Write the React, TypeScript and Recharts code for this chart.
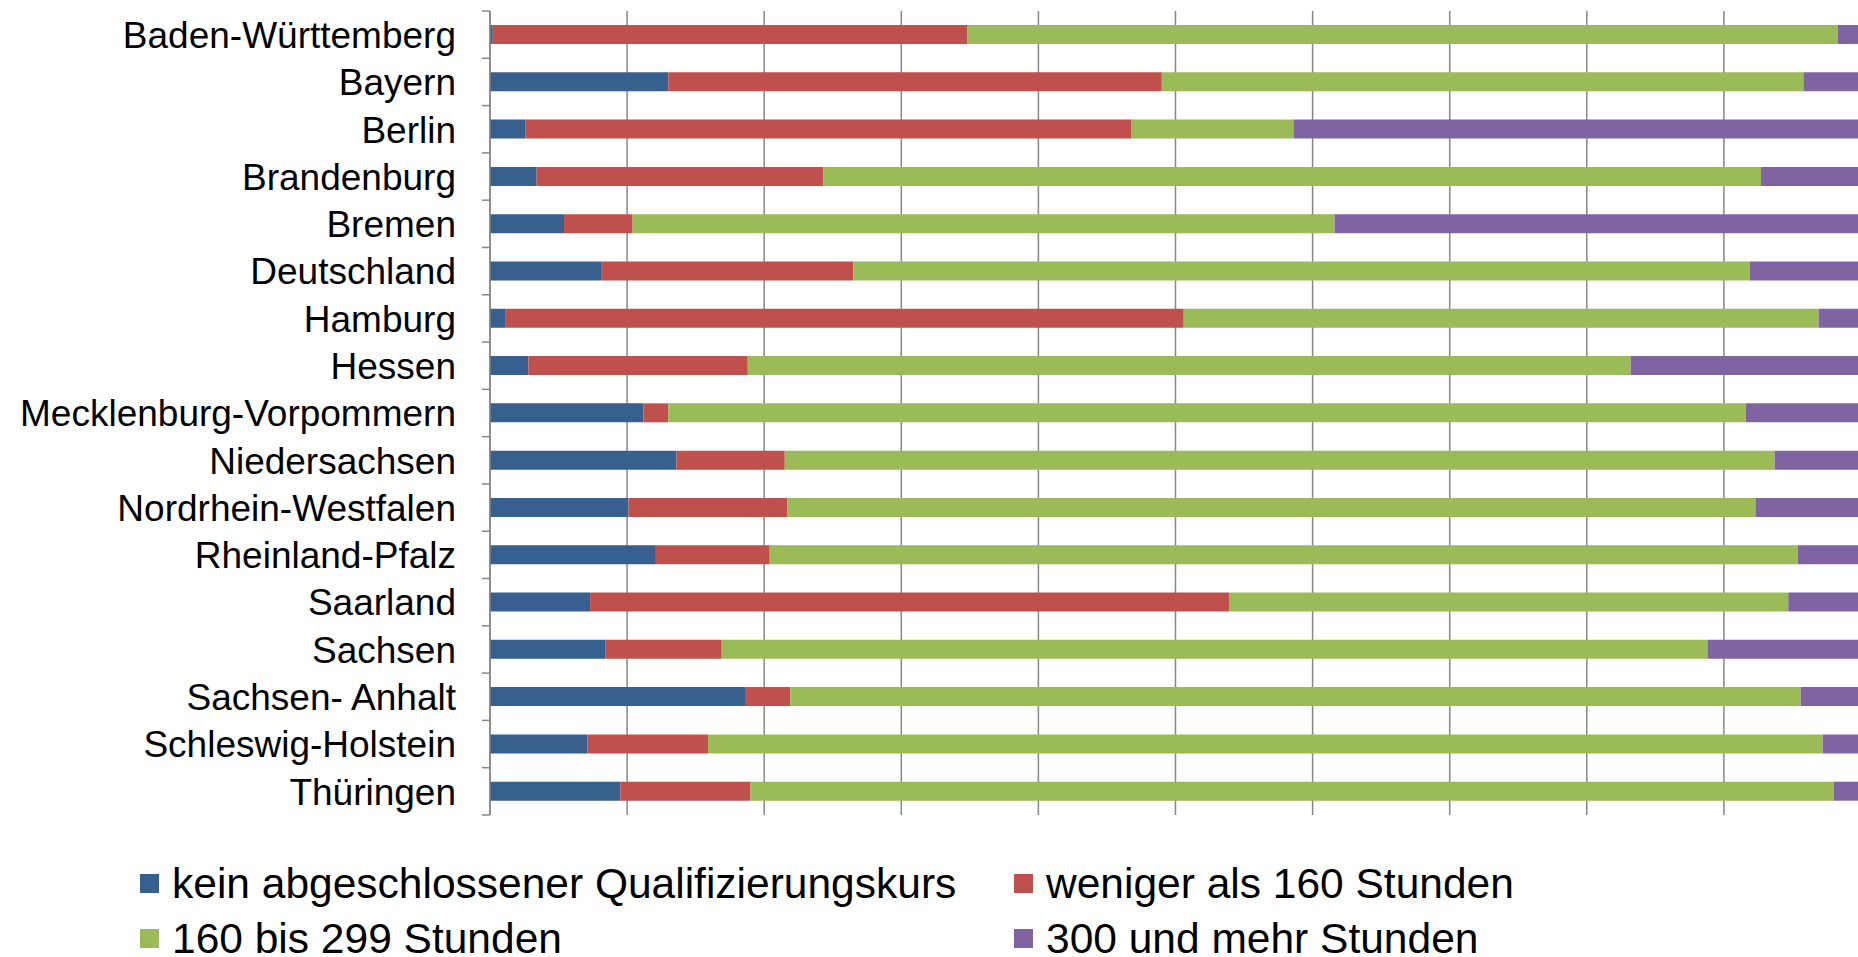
import { BarChart, Bar, XAxis, YAxis, CartesianGrid } from "recharts";

// Bundesländer, top to bottom
const states = [
  "Baden-Württemberg",
  "Bayern",
  "Berlin",
  "Brandenburg",
  "Bremen",
  "Deutschland",
  "Hamburg",
  "Hessen",
  "Mecklenburg-Vorpommern",
  "Niedersachsen",
  "Nordrhein-Westfalen",
  "Rheinland-Pfalz",
  "Saarland",
  "Sachsen",
  "Sachsen- Anhalt",
  "Schleswig-Holstein",
  "Thüringen",
];

// shares in percent
const keinKurs = [0.2, 13.0, 2.6, 3.4, 5.4, 8.1, 1.1, 2.8, 11.2, 13.6, 10.1, 12.1, 7.3, 8.4, 18.6, 7.1, 9.5];
const unter160 = [34.6, 36.0, 44.2, 20.9, 5.0, 18.4, 49.5, 16.0, 1.8, 7.9, 11.6, 8.3, 46.6, 8.5, 3.3, 8.8, 9.5];
const von160bis299 = [63.5, 46.8, 11.8, 68.4, 51.2, 65.4, 46.3, 64.4, 78.6, 72.2, 70.6, 75.0, 40.8, 71.9, 73.7, 81.3, 79.0];
const ab300 = [1.7, 4.2, 41.4, 7.3, 38.4, 8.1, 3.1, 16.8, 8.4, 6.3, 7.7, 4.6, 5.3, 11.2, 4.4, 2.8, 2.0];

const seriesKeys = ["kein", "unter160", "mittel", "ab300"];
const seriesNames = [
  "kein abgeschlossener Qualifizierungskurs",
  "weniger als 160 Stunden",
  "160 bis 299 Stunden",
  "300 und mehr Stunden",
];
const seriesColors = ["#37608F", "#C0504D", "#9BBB59", "#8064A2"];
const xTicks = [0, 10, 20, 30, 40, 50, 60, 70, 80, 90, 100];

const data = states.map((name, i) => ({
  name,
  kein: keinKurs[i],
  unter160: unter160[i],
  mittel: von160bis299[i],
  ab300: ab300[i],
}));

const FONT = '"Liberation Sans", Arial, sans-serif';
const GRID = "#878787";
const W = 1861;
const H = 957;
const TOP = 11;
const BOTTOM = 142;
const AXIS_W = 490;
const BAND = (H - TOP - BOTTOM) / states.length;

const StateTick = ({ x, y, payload, index }: any) => {
  const last = index === states.length - 1;
  return (
    <g>
      <line x1={x - 8} x2={x} y1={y - BAND / 2} y2={y - BAND / 2} stroke={GRID} strokeWidth={1.5} />
      {last && (
        <line x1={x - 8} x2={x} y1={y + BAND / 2} y2={y + BAND / 2} stroke={GRID} strokeWidth={1.5} />
      )}
      <text x={x - 34} y={y} dy="0.36em" textAnchor="end" fontSize={37} fontFamily={FONT} fill="#000">
        {payload.value}
      </text>
    </g>
  );
};

// the x axis shows no labels, only its gridlines
const NoTick = () => <g />;

export default function App() {
  return (
    <div style={{ position: "relative", width: 1858, height: 957, overflow: "hidden", background: "#fff" }}>
      <style>{`body{margin:0;overflow:hidden}`}</style>
      <BarChart
        width={W}
        height={H}
        data={data}
        layout="vertical"
        margin={{ top: TOP, right: 0, bottom: BOTTOM, left: 0 }}
        barSize={19}
      >
        <CartesianGrid horizontal={false} stroke={GRID} strokeWidth={1.5} />
        <XAxis
          type="number"
          domain={[0, 100]}
          ticks={xTicks}
          interval={0}
          tickLine={false}
          axisLine={false}
          tick={<NoTick />}
          height={0}
          allowDataOverflow
        />
        <YAxis
          type="category"
          dataKey="name"
          width={AXIS_W}
          tickSize={0}
          tickMargin={0}
          tickLine={false}
          axisLine={{ stroke: GRID, strokeWidth: 1.5 }}
          tick={<StateTick />}
          interval={0}
        />
        {seriesKeys.map((k, i) => (
          <Bar key={k} dataKey={k} name={seriesNames[i]} stackId="a" fill={seriesColors[i]} isAnimationActive={false} />
        ))}
      </BarChart>
      <div
        style={{
          position: "absolute",
          left: 140,
          top: 856,
          display: "grid",
          gridTemplateColumns: "874px auto",
          fontFamily: FONT,
          fontSize: 42.5,
          color: "#000",
        }}
      >
        {[0, 1, 2, 3].map((i) => (
          <div key={i} style={{ display: "flex", alignItems: "center", height: 55, whiteSpace: "nowrap" }}>
            <span style={{ width: 19, height: 19, background: seriesColors[i], marginRight: 13, flex: "none" }} />
            <span style={{ lineHeight: "36px" }}>{seriesNames[i]}</span>
          </div>
        ))}
      </div>
    </div>
  );
}
